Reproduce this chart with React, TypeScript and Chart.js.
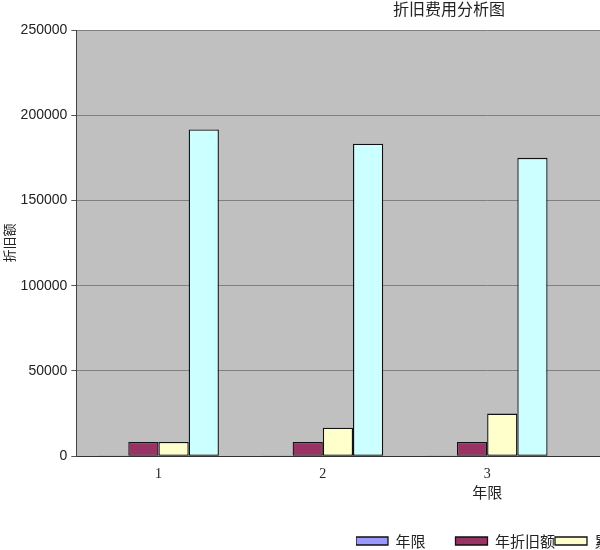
import { Chart, registerables } from "chart.js";
import { useEffect, useRef } from "react";

Chart.register(...registerables);

const years = ["1", "2", "3", "4", "5"];
const seriesNames = ["年限", "年折旧额", "累计折旧", "账面净值"];
const yearValues = [1, 2, 3];
const annualDep = [8333, 8333, 8333];
const accumDep = [8333, 16667, 25000];
const netValue = [191667, 183333, 175000];
const yTicks = [0, 50000, 100000, 150000, 200000, 250000];

const colors = ["#9999FF", "#993366", "#FFFFCC", "#CCFFFF"];

// grey plot area like the old Excel chart
const plotBg = {
  id: "plotBg",
  beforeDraw(chart: any) {
    const { ctx, chartArea: a } = chart;
    ctx.save();
    ctx.fillStyle = "#C0C0C0";
    ctx.fillRect(a.left, a.top, a.right - a.left, a.bottom - a.top);
    ctx.restore();
  },
};

// legend sits off-centre in the original, move it
const legendShift = {
  id: "legendShift",
  afterLayout(chart: any) {
    const lg = chart.legend;
    if (!lg) return;
    const pad = lg.options.labels.padding;
    const dx = 356 - (lg.left + pad);
    const dy = 541 - (lg.top + pad + 7.5);
    lg.left += dx;
    lg.right += dx;
    lg.top += dy;
    lg.bottom += dy;
  },
};

function DepreciationChart() {
  const chartRef = useRef<HTMLCanvasElement | null>(null);
  useEffect(() => {
    const ctx = chartRef.current?.getContext("2d");
    if (!ctx) return;
    const values = [yearValues, annualDep, accumDep, netValue];
    const chart = new Chart(ctx, {
      type: "bar",
      data: {
        labels: years,
        datasets: values.map((d, i) => ({
          label: seriesNames[i],
          data: d,
          backgroundColor: colors[i],
          borderColor: "#111111",
          borderWidth: 1.3,
          borderSkipped: false,
          categoryPercentage: 0.735,
          barPercentage: 1.0,
        })),
      },
      options: {
        responsive: false,
        animation: false,
        layout: { padding: { left: 0, right: 2, top: 0, bottom: 0 } },
        plugins: {
          title: {
            display: true,
            text: "折旧费用分析图",
            color: "#222",
            font: { family: "Noto Sans CJK SC", size: 16, weight: "normal" },
            padding: { top: -1, bottom: 11.8 },
          },
          legend: {
            position: "bottom",
            align: "start",
            labels: {
              boxWidth: 32,
              boxHeight: 8,
              padding: 0,
              color: "#222",
              font: { family: "Noto Sans CJK SC", size: 15 },
              // Excel gives every legend entry the same slot width
              generateLabels(c: any) {
                const items = Chart.defaults.plugins.legend.labels.generateLabels(c);
                return items.map((it: any) => ({
                  ...it,
                  text: it.text.length < 4 ? it.text + "\u3000".repeat(4 - it.text.length) : it.text,
                }));
              },
            },
          },
          tooltip: { enabled: false },
        },
        scales: {
          x: {
            grid: { display: true, drawOnChartArea: false, drawTicks: true, tickLength: 9, tickColor: "transparent" },
            border: { color: "#333", width: 1 },
            ticks: {
              color: "#222",
              padding: 1,
              font: { family: "Liberation Serif", size: 14 },
            },
            title: {
              display: true,
              text: "年限",
              color: "#222",
              font: { family: "Noto Sans CJK SC", size: 15 },
              padding: { top: -1, bottom: 24 },
            },
          },
          y: {
            min: 0,
            max: 250000,
            afterBuildTicks(axis: any) {
              axis.ticks = yTicks.map((v) => ({ value: v }));
            },
            grid: { color: "#808080", tickLength: 5, tickColor: "#555" },
            border: { color: "#444", width: 1 },
            ticks: {
              color: "#222",
              padding: 4,
              font: { family: "Liberation Sans", size: 14 },
              callback: (v: any) => String(v),
            },
            title: {
              display: true,
              text: "折旧额",
              color: "#222",
              font: { family: "Noto Sans CJK SC", size: 13 },
              padding: { top: 1, bottom: 0 },
            },
          },
        },
      },
      plugins: [plotBg, legendShift],
    });
    return () => chart.destroy();
  }, []);
  return (
    <div style={{ position: "fixed", left: 0, top: 0, width: 600, height: 550, overflow: "hidden", background: "#fff" }}>
      <canvas ref={chartRef} width={900} height={550}></canvas>
    </div>
  );
}

export default function App() {
  return <DepreciationChart />;
}
